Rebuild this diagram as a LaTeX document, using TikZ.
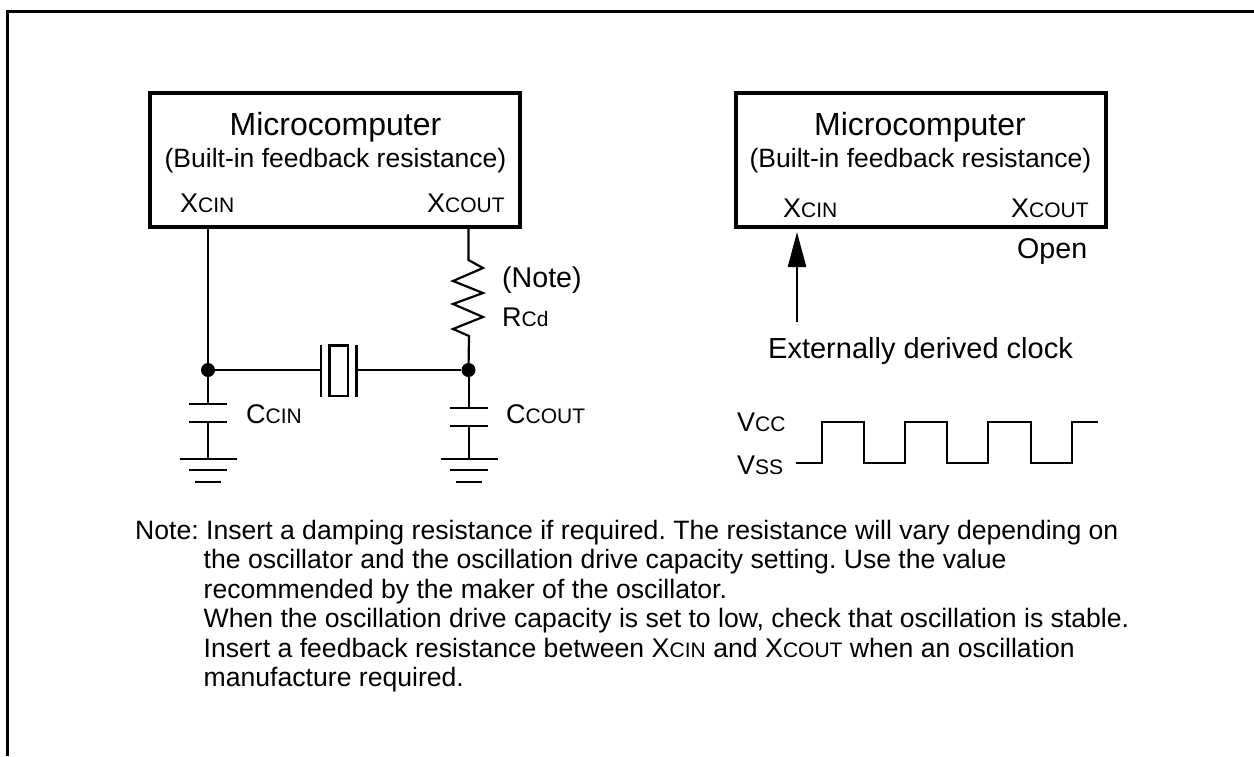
\documentclass[tikz,border=0pt]{standalone}
\usepackage{fontspec}
\setmainfont{Liberation Sans}
\usetikzlibrary{arrows.meta}
\usetikzlibrary{positioning}
\frenchspacing
\newcommand{\subcaps}[2]{{\fontsize{27}{30}\selectfont #1}{\fontsize{21}{24}\selectfont #2}}
\newcommand{\noteindent}{\hspace*{68.5pt}}
\tikzset{wire/.style = {line width=2.2pt},
         chip/.style = {draw, line width=3.4pt, minimum width=370pt, minimum height=134pt, inner sep=0pt},
         lab/.style = {anchor=base west, inner sep=0pt, font=\fontsize{28.6}{32}\selectfont},
         title/.style = {anchor=base, inner sep=0pt, font=\fontsize{32}{36}\selectfont},
         subtitle/.style = {anchor=base, inner sep=0pt, font=\fontsize{26.5}{30}\selectfont},
         dot/.style = {circle, fill=black, inner sep=0pt, minimum size=14pt}}

\begin{document}
\begin{tikzpicture}[x=1pt,y=-1pt]
    \useasboundingbox (0, 0) rectangle (1254, 756);
    \draw [line width=3pt] (1254, 11.5) -- (7, 11.5) -- (7, 756);
    % left circuit
    \node [chip] (lchip) at (335, 160) {};
    \node [title] (ltitle) at (335.5, 135) {Microcomputer};
    \node [subtitle] (lsub) at (335.5, 167) {(Built-in feedback resistance)};
    \node [lab] (lxin) at (180, 212) {\subcaps{X}{CIN}};
    \node [lab] (lxout) at (427, 212) {\subcaps{X}{COUT}};
    \node [dot] (jin) at (208, 370) {};
    \node [dot] (jout) at (468.5, 370) {};
    \coordinate (rtop) at (468.5, 260);
    \coordinate (rbot) at (469, 336);
    \draw [wire] (jin |- lchip.south) -- (jin);
    \draw [wire] (rtop |- lchip.south) -- (rtop) -- (483, 268) -- (453, 281) -- (483, 293) -- (453, 304) -- (483, 317) -- (453, 329) -- (rbot) -- (jout);
    \node [lab] (rnote) at (502, 287) {(Note)};
    \node [lab] (rcd) at (502, 326) {\subcaps{R}{Cd}};
    % crystal
    \coordinate (xl) at (321, 370);
    \coordinate (xr) at (356.5, 370);
    \draw [wire] (jin) -- (xl);
    \draw [wire] (xr) -- (jout);
    \draw [wire] (321, 345) -- (321, 397);
    \draw [wire] (356.5, 345) -- (356.5, 397);
    \draw [wire] (329.5, 345.5) rectangle (348, 396);
    % capacitors and grounds
    \foreach \x/\y/\name in {208/404/cin, 469/408/cout} {
      \coordinate (\name top) at (\x, \y);
      \coordinate (\name bot) at (\x, \y + 18);
      \coordinate (\name gnd) at (\x, 459);
      \draw [wire] (\x, 370) -- (\name top);
      \draw [wire] (\name bot) -- (\name gnd);
      \draw [wire] (\x - 19, \y) -- (\x + 19, \y);
      \draw [wire] (\x - 19, \y + 18) -- (\x + 19, \y + 18);
      \draw [wire] (\x - 28.5, 459) -- (\x + 28.5, 459);
      \draw [wire] (\x - 19, 470) -- (\x + 19, 470);
      \draw [wire] (\x - 13, 482) -- (\x + 13, 482);
    }
    \node [lab] (ccin) at (246, 423) {\subcaps{C}{CIN}};
    \node [lab] (ccout) at (506, 423) {\subcaps{C}{COUT}};
    % right circuit
    \node [chip] (rchip) at (921, 160) {};
    \node [title] (rtitle) at (920, 135) {Microcomputer};
    \node [subtitle] (rsub) at (920.5, 167) {(Built-in feedback resistance)};
    \node [lab] (rxin) at (783, 217) {\subcaps{X}{CIN}};
    \node [lab] (rxout) at (1011, 217) {\subcaps{X}{COUT}};
    \node [lab] (open) at (1017, 258) {Open};
    \node [lab, font=\fontsize{29}{32}\selectfont] (clock) at (768, 358) {Externally derived clock};
    \coordinate (tip) at (797, 232);
    \coordinate (tail) at (797, 322);
    \draw [-{Triangle[length=35pt,width=18pt]}, line width=2.6pt] (tail) -- (tip);
    \node [lab] (vcc) at (737, 431) {\subcaps{V}{CC}};
    \node [lab] (vss) at (737, 474) {\subcaps{V}{SS}};
    \draw [wire] (796, 463) -- (822, 463) -- (822, 422) -- (864, 422) -- (864, 463)
      -- (905, 463) -- (905, 422) -- (947, 422) -- (947, 463)
      -- (988, 463) -- (988, 422) -- (1031, 422) -- (1031, 463)
      -- (1072, 463) -- (1072, 422) -- (1098, 422);
    % note
    \node [anchor=north west, align=left, inner sep=0pt, font=\fontsize{26.6}{29.4}\selectfont] (note) at (135, 520) {Note: Insert a damping resistance if required. The resistance will vary depending on\\
      \noteindent the oscillator and the oscillation drive capacity setting. Use the value\\
      \noteindent recommended by the maker of the oscillator.\\
      \noteindent When the oscillation drive capacity is set to low, check that oscillation is stable.\\
      \noteindent Insert a feedback resistance between \subcaps{X}{CIN} and \subcaps{X}{COUT} when an oscillation\\
      \noteindent manufacture required.};
  \end{tikzpicture}
\end{document}
